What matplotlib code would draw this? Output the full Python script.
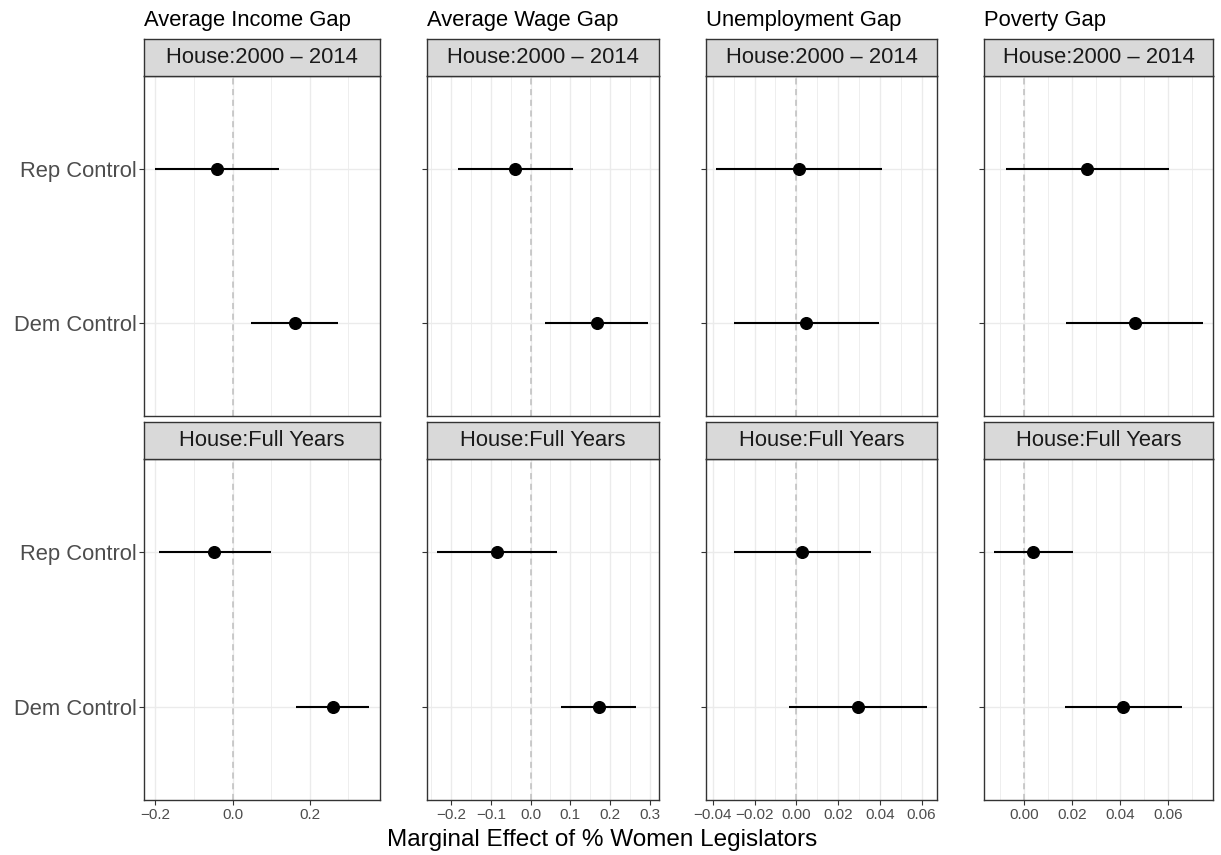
import matplotlib
matplotlib.use("Agg")
import matplotlib.pyplot as plt
from matplotlib.ticker import FixedLocator, FixedFormatter

plt.rcParams['font.family'] = ['Liberation Sans', 'DejaVu Sans']

# ---------------- data ----------------
outcomes = ["Average Income Gap", "Average Wage Gap", "Unemployment Gap", "Poverty Gap"]
periods = ["House:2000 \u2013 2014", "House:Full Years"]
categories = ["Dem Control", "Rep Control"]  # bottom -> top

# point estimates [period][outcome] for Rep and Dem
est_rep = [[-0.041, -0.039, 0.0013, 0.0264],
           [-0.047, -0.084, 0.0027, 0.0040]]
est_dem = [[0.161, 0.167, 0.0048, 0.0460],
           [0.259, 0.171, 0.0295, 0.0411]]
lo_rep = [[-0.201, -0.183, -0.0384, -0.0075],
          [-0.190, -0.235, -0.0300, -0.0122]]
hi_rep = [[0.121, 0.106, 0.0410, 0.0601],
          [0.099, 0.067, 0.0357, 0.0205]]
lo_dem = [[0.048, 0.037, -0.0300, 0.0176],
          [0.164, 0.077, -0.0033, 0.0171]]
hi_dem = [[0.274, 0.296, 0.0396, 0.0742],
          [0.354, 0.266, 0.0625, 0.0656]]

major_ticks = [[-0.2, 0.0, 0.2],
               [-0.2, -0.1, 0.0, 0.1, 0.2, 0.3],
               [-0.04, -0.02, 0.0, 0.02, 0.04, 0.06],
               [0.0, 0.02, 0.04, 0.06]]
major_labels = [["\u22120.2", "0.0", "0.2"],
                ["\u22120.2", "\u22120.1", "0.0", "0.1", "0.2", "0.3"],
                ["\u22120.04", "\u22120.02", "0.00", "0.02", "0.04", "0.06"],
                ["0.00", "0.02", "0.04", "0.06"]]
minor_ticks = [[-0.1, 0.1, 0.3],
               [-0.25, -0.15, -0.05, 0.05, 0.15, 0.25],
               [-0.03, -0.01, 0.01, 0.03, 0.05],
               [-0.01, 0.01, 0.03, 0.05, 0.07]]

xlabel = "Marginal Effect of % Women Legislators"

# ---------------- layout ----------------
W, H = 1221, 855
fig = plt.figure(figsize=(W / 100, H / 100), dpi=100)

col_px = [(144.3, 380.0), (426.7, 658.7), (705.7, 937.3), (984.0, 1213.0)]
panel_px = [(76, 416), (459, 800)]
strip_px = [(39, 76), (422, 459)]

grey20 = "#333333"
grey30 = "#4D4D4D"
grid_c = "#EBEBEB"

for c in range(4):
    # shared x range per column, ggplot-style 5% expansion
    vals = []
    for r in range(2):
        vals += [lo_rep[r][c], hi_rep[r][c], lo_dem[r][c], hi_dem[r][c]]
    vmin, vmax = min(vals), max(vals)
    span = vmax - vmin
    xlim = (vmin - 0.05 * span, vmax + 0.05 * span)
    x0, x1 = col_px[c]
    for r in range(2):
        y0, y1 = panel_px[r]
        ax = fig.add_axes([x0 / W, 1 - y1 / H, (x1 - x0) / W, (y1 - y0) / H])
        ax.set_xlim(*xlim)
        ax.set_ylim(-0.6, 1.6)
        ax.xaxis.set_major_locator(FixedLocator(major_ticks[c]))
        ax.xaxis.set_minor_locator(FixedLocator(minor_ticks[c]))
        ax.xaxis.set_major_formatter(FixedFormatter(major_labels[c]))
        ax.set_yticks(range(len(categories)))
        ax.grid(True, which='major', axis='both', color=grid_c, lw=1.0, zorder=0)
        ax.grid(True, which='minor', axis='x', color=grid_c, lw=0.6, zorder=0)
        ax.set_axisbelow(True)
        for s in ax.spines.values():
            s.set_color(grey20)
            s.set_linewidth(1.0)
        ax.axvline(0, color="#BEBEBE", lw=1.1, ls=(0, (4, 3)), zorder=1)
        # Rep (index 1) and Dem (index 0)
        ests = [est_dem[r][c], est_rep[r][c]]
        los = [lo_dem[r][c], lo_rep[r][c]]
        his = [hi_dem[r][c], hi_rep[r][c]]
        for i in range(2):
            ax.plot([los[i], his[i]], [i, i], color='black', lw=1.5, zorder=3,
                    solid_capstyle='butt')
        ax.plot(ests, range(2), 'o', color='black', ms=8.4, zorder=4)
        ax.tick_params(axis='both', which='major', length=3.5, width=0.8,
                       color=grey20, labelcolor=grey30)
        ax.tick_params(axis='x', which='minor', length=0)
        ax.tick_params(axis='x', labelsize=11, pad=2)
        if c == 0:
            ax.set_yticklabels(categories, fontsize=15.8)
            ax.tick_params(axis='y', pad=2)
        else:
            ax.set_yticklabels([])
        if r == 0:
            ax.tick_params(axis='x', which='both', length=0, labelbottom=False)
        # strip
        sy0, sy1 = strip_px[r]
        sax = fig.add_axes([x0 / W, 1 - sy1 / H, (x1 - x0) / W, (sy1 - sy0) / H])
        sax.set_facecolor("#D9D9D9")
        sax.set_xticks([])
        sax.set_yticks([])
        for s in sax.spines.values():
            s.set_color(grey20)
            s.set_linewidth(1.0)
        sax.text(0.5, 0.5, periods[r], ha='center', va='center',
                 fontsize=15.8, color="#1A1A1A", transform=sax.transAxes)
    # column title
    fig.text(x0 / W, 1 - 26 / H, outcomes[c], ha='left', va='baseline',
             fontsize=15.8, color='black')

fig.text(602 / W, 1 - 840 / H, xlabel, ha='center', va='center',
         fontsize=17.5, color='black')

fig.savefig("out.png", dpi=100, facecolor='white')
